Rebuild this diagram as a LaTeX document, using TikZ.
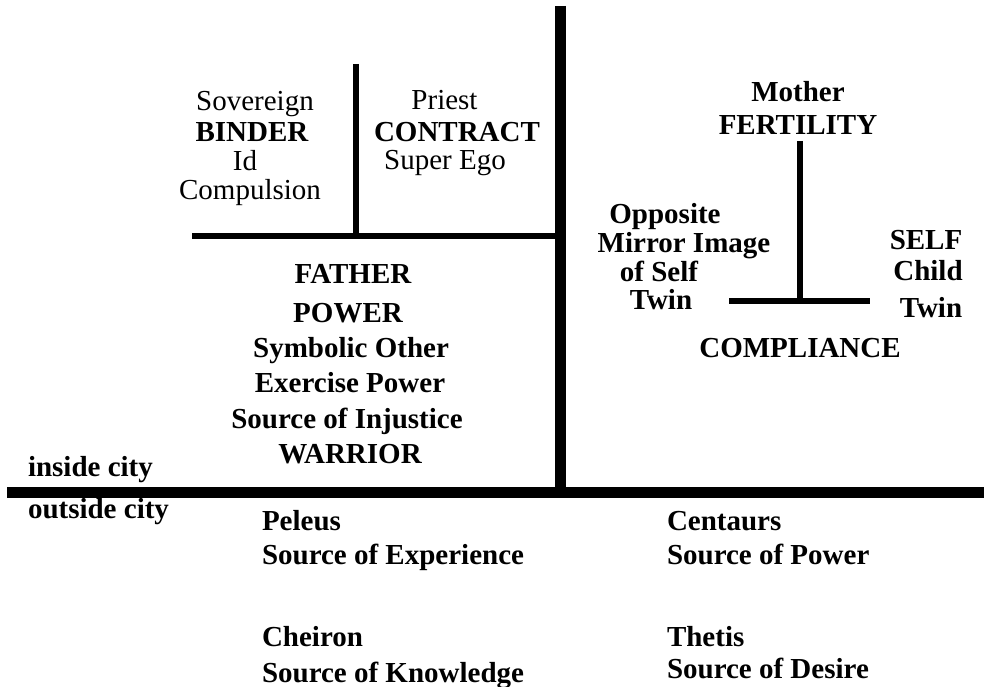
\documentclass[tikz,border=0pt]{standalone}
\usepackage{fontspec}
\setmainfont{Liberation Serif}
\begin{document}
\begin{tikzpicture}[x=1pt,y=-1pt,
  txt/.style={inner sep=0pt,outer sep=0pt,anchor=base,font=\fontsize{29}{33}\selectfont},
  btxt/.style={txt,font=\fontsize{29}{33}\selectfont\bfseries},
  lbtxt/.style={btxt,anchor=base west},
  heavy/.style={line width=11pt,line cap=butt},
  medium/.style={line width=6pt,line cap=butt}]
\useasboundingbox[fill=white] (0,0) rectangle (984,687);
% structural coordinates
\coordinate (hL) at (7,492);
\coordinate (hR) at (984,492);
\coordinate (vT) at (560.5,6);
\coordinate (vB) at (560.5,492);
\coordinate (uL) at (192,235.5);
\coordinate (uR) at (560,235.5);
\coordinate (iT) at (356,64);
\coordinate (iB) at (356,235.5);
\coordinate (rT) at (800,141);
\coordinate (rB) at (800,300.5);
\coordinate (rL) at (729,300.5);
\coordinate (rR) at (870,300.5);
% lines
\draw[heavy] (hL) -- (hR);
\draw[heavy] (vT) -- (vB);
\draw[medium] (uL) -- (uR);
\draw[medium] (iT) -- (iB);
\draw[medium] (rT) -- (rB);
\draw[medium] (rL) -- (rR);
% top-left quadrant
\node[txt]  (sov)  at (255,111) {Sovereign};
\node[btxt] (bind) at (252,142) {BINDER};
\node[txt]  (id)   at (245,171) {Id};
\node[txt]  (comp) at (250,199) {Compulsion};
\node[txt]  (pri)  at (444.5,110) {Priest};
\node[btxt] (cont) at (457,142) {CONTRACT};
\node[txt]  (sego) at (445,170) {Super Ego};
% father block
\node[btxt] (fath) at (353,283) {FATHER};
\node[btxt] (pow)  at (348,322) {POWER};
\node[btxt] (sym)  at (351,357) {Symbolic Other};
\node[btxt] (exer) at (350,392) {Exercise Power};
\node[btxt] (inj)  at (347,428) {Source of Injustice};
\node[btxt] (war)  at (350,463) {WARRIOR};
% right quadrant
\node[btxt] (moth) at (798,102) {Mother};
\node[btxt] (fert) at (798,135) {FERTILITY};
\node[btxt] (opp)  at (665,223) {Opposite};
\node[btxt] (mir)  at (684,252) {Mirror Image};
\node[btxt] (ofs)  at (659,281) {of Self};
\node[btxt] (twl)  at (661,309) {Twin};
\node[btxt] (self) at (926,249) {SELF};
\node[btxt] (chi)  at (928,280) {Child};
\node[btxt] (twr)  at (931,317) {Twin};
\node[btxt] (compl) at (800,357) {COMPLIANCE};
% city labels
\node[lbtxt] (ins)  at (28,476) {inside city};
\node[lbtxt] (outs) at (28,518) {outside city};
% outside city
\node[lbtxt] (pel)  at (262,530) {Peleus};
\node[lbtxt] (sexp) at (262,564) {Source of Experience};
\node[lbtxt] (che)  at (262,646) {Cheiron};
\node[lbtxt] (skno) at (262,682) {Source of Knowledge};
\node[lbtxt] (cen)  at (667,530) {Centaurs};
\node[lbtxt] (spow) at (667,564) {Source of Power};
\node[lbtxt] (the)  at (667,646) {Thetis};
\node[lbtxt] (sdes) at (667,678) {Source of Desire};
\end{tikzpicture}
\end{document}
